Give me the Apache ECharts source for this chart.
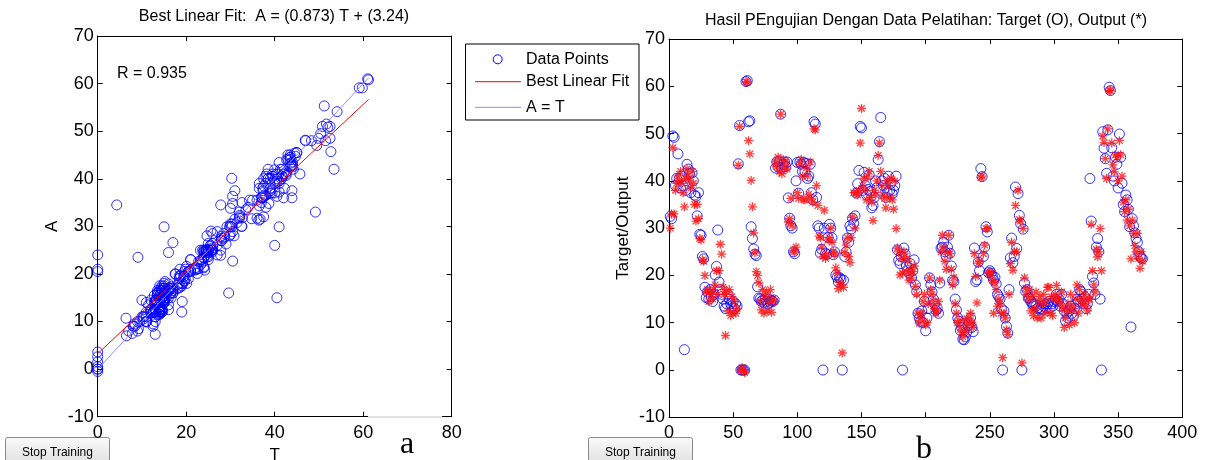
<!DOCTYPE html>
<html>
<head>
<meta charset="utf-8">
<script src="https://cdn.jsdelivr.net/npm/echarts@6/dist/echarts.min.js"></script>
<style>
html,body{margin:0;padding:0;background:#fff;}
#chart{width:1207px;height:460px;}
</style>
</head>
<body>
<div id="chart"></div>
<script>
// Target values (O), one per sample number 1..369
const targetValues = [
32.5,32,49.5,49.2,39,40.5,45.7,40.5,38.5,41,
39,4.3,38,43.5,42.5,41.5,37.5,41.7,40,37,
36.7,32.6,37.5,28.7,28.5,24,23.5,17.5,15.3,16.5,
15,17,15.5,14.5,16,20.1,21.9,29.6,18.6,17,
16,15,13.5,13,14,16,15,14,13.5,14.5,
13,14,13.5,43.6,51.7,0,0,0,0,61,
61.2,52.5,52.7,30.3,27.8,25.6,24.5,24.2,17.6,15.2,
15,14.5,14.8,14.2,15,14.5,14,15,14.3,14.7,
14.5,14.8,42.7,44,43,44.2,54.1,42.7,43.5,44,
43,44,36.4,32.1,30.5,30,25,24.6,40,43.9,
37.4,44,43.5,42,43.9,42,43.7,40.5,41,43.5,
37.5,36,52.5,52,36.5,30.5,30,24.7,25.5,0,
30,24.7,24.4,28,30.8,30,28,24.4,25,20.1,
19.6,18.6,19.5,19.2,0,19,24,25,27.9,27,
30.5,29.8,32.1,31,32.6,37.4,39.4,42.2,51.5,51.2,
38,41.8,39,37,38.2,41.3,37.8,34.3,34.8,36.5,
40,38.5,44.5,48.3,53.4,40,39,40.5,36.5,37.5,
41,38,39.5,37.2,38,39,41,25.4,23.2,22.5,
24,0,25.8,24.5,22,21,20.5,22.5,19.5,21,
23.3,18,16.6,12,11,10.3,12.5,10,14.5,8.3,
11,13,19.5,18,16.5,15,14,12.6,13,12,
18.4,25.8,26,27,25,24,26,28.5,24.7,22,
19,18.7,15,12.7,11,10.3,8.4,9,6.5,6.4,
7,8,9.5,10,11,9,8.1,25.8,18.7,19.1,
22.8,21,42.6,40.9,24,26,30.3,29.2,20.6,21,
20.5,19.8,19,19.6,18.2,16,15.5,15,13,0,
12.5,11,9.2,7.8,17,23.7,27.9,22.7,24,38.7,
25.7,37.3,32.7,31,0,29.8,18.4,16.6,17,15.2,
15.2,14.5,14,13.8,14,13.5,13,13.2,12.8,13,
12.8,13.5,14,13.2,14,14.5,13.2,14,13.5,14.5,
15,16,14.5,15,13.5,16,14,12.5,10.4,12,
11,12.5,13.5,12,11.5,13,14,15,14.5,17,
16.6,15,14,15.5,13,14,16,40.5,31.5,19.8,
18.4,16,26,27.8,25,15,0,50.4,46.9,44.7,
41.6,50.8,59.8,59.1,47,41,40,45,43.5,38.5,
49.9,45,39.5,35,33.5,37,36,34,30.3,9.1,
32,30.5,29,27.8,27,25,24,23.7,23.5
];
// Network output values (*), one per sample number 1..369
const outputValues = [
30,33,47,33,38,39.5,41,40,42,39.5,
37.5,34.5,40.5,42.5,41,40,38.5,42,39.5,35,
31.5,35,32,27.8,27.5,23.3,23,20,16.5,17,
14.5,16.5,16,15,17,18,21,16,21,26.6,
24.5,17.5,16,7.3,16.5,12.5,17,11.5,15.5,12,
14.5,12,13,43.3,51.5,0,0.5,0,-0.5,61,
60.8,48.5,45.7,40.1,34.5,29,24.8,20.8,20,18.4,
14.5,12.7,17,12,15.5,16.5,12.5,14.3,17,12.2,
15,14.5,44,43,45,42,54.1,41.5,44.5,42.8,
44,42.5,31.3,32,36.3,30.5,25.2,25,26,37.5,
36.3,43.5,44.5,41,36,36,42.7,41,37.2,44,
36.2,35.5,51,50.8,39,34.8,28.3,28,26,24,
33.8,23.6,24.5,27.5,28,30,27,25,24.5,21.6,
20.5,17.2,18.5,18,3.6,17.5,24.8,26.4,27.9,24,
22.7,28,32.3,37.5,30,37.5,37,38,48,55.3,
39,40.5,38,36,41,42,36.5,35.5,31.6,38,
37,40,45.4,48,42,39,37,36.3,34.3,40,
39,36.5,40.5,36,34,40,29.9,25.8,25,20.1,
23.5,20.5,25,24,20.8,23,19,21,19.5,20.8,
22,17.7,16,12,9.9,11,12,14.5,16,9.5,
10,14,19.5,17,16,14.5,13,12,12.5,14.5,
19,25,28.5,26,23,21.3,25,28.5,24.6,21.3,
18,19.5,14,12,10,10.5,9,8,7,10.7,
8,9,10,11,12,10,9,24.6,19.8,14.2,
22.6,23,40.7,41,24.6,26.4,29.9,29.9,20.5,20.5,
20.5,19,12,18.5,17,13.5,15,14,12,2.6,
12,11,8.5,7.5,16,22.5,27,21.1,25,34.8,
25,38,31.8,31.5,1.5,29.9,19.5,17.3,16,14.9,
17,12.5,15.5,11.5,13,16.5,11,14.5,15.5,11,
14,16,12,14.5,17.5,17.5,12,15.5,11.5,15,
16,17.9,15,14.9,14,16.5,13,9,11,12.5,
14,9.5,16,12.5,13.5,10,15,18,12,17,
15,14,14.5,16,13.5,12.5,15,15,30.8,21,
18,16.5,25.5,23.9,25,29.9,21,49.5,48.1,44.7,
40.5,51,59.1,59.1,48,43.4,41.9,45.5,45,40,
48.5,45.5,41,35.5,33.5,36,31.7,34,30.5,23.5,
31.7,28.9,26.3,25,28.9,23.6,21.5,25,23
];
const fitSlope = 0.873, fitIntercept = 3.24, rValue = 0.935;
const leftXTicks = [0, 80, 20];   // min, max, interval
const leftYTicks = [-10, 70, 10];
const rightXTicks = [0, 400, 50];
const rightYTicks = [-10, 70, 10];
const hiddenRightXLabels = [200];

const FONT = 'Liberation Sans, Arial, sans-serif';
const tMax = Math.max(...targetValues);
const scatterPairs = targetValues.map((t, i) => [t, outputValues[i]]);
const targetSeries = targetValues.map((v, i) => [i + 1, v]);
const outputSeries = outputValues.map((v, i) => [i + 1, v]);

const chart = echarts.init(document.getElementById('chart'), null, {renderer: 'canvas'});
const star = 'path://M0,-5L0,5M-5,0L5,0M-3.6,-3.6L3.6,3.6M-3.6,3.6L3.6,-3.6';

function axisCommon(extra) {
  return Object.assign({
    type: 'value',
    axisLine: {show: true, onZero: false, lineStyle: {color: '#000', width: 1}},
    axisTick: {show: true, inside: true, length: 5, lineStyle: {color: '#000'}},
    splitLine: {show: false},
    axisLabel: {color: '#000', fontSize: 18, fontFamily: FONT},
    nameTextStyle: {color: '#000', fontSize: 17, fontFamily: FONT}
  }, extra);
}

const grids = [
  {left: 97.7, top: 36, width: 354, height: 380.7, show: false, containLabel: false, outerBoundsMode: 'none'},
  {left: 669, top: 39, width: 513.3, height: 378.3, show: false, containLabel: false, outerBoundsMode: 'none'}
];

const xAxes = [
  axisCommon({gridIndex: 0, min: leftXTicks[0], max: leftXTicks[1], interval: leftXTicks[2], position: 'bottom',
    axisLabel: {color: '#000', fontSize: 18, fontFamily: FONT, margin: 7},
    name: 'T', nameLocation: 'middle', nameGap: 30}),
  axisCommon({gridIndex: 0, min: leftXTicks[0], max: leftXTicks[1], interval: leftXTicks[2], position: 'top',
    axisLabel: {show: false}}),
  axisCommon({gridIndex: 1, min: rightXTicks[0], max: rightXTicks[1], interval: rightXTicks[2], position: 'bottom',
    axisLabel: {color: '#000', fontSize: 18, fontFamily: FONT, margin: 7,
      formatter: v => hiddenRightXLabels.includes(v) ? '' : String(v)}}),
  axisCommon({gridIndex: 1, min: rightXTicks[0], max: rightXTicks[1], interval: rightXTicks[2], position: 'top',
    axisLabel: {show: false}})
];
const yAxes = [
  axisCommon({gridIndex: 0, min: leftYTicks[0], max: leftYTicks[1], interval: leftYTicks[2], position: 'left',
    axisLabel: {color: '#000', fontSize: 18, fontFamily: FONT, margin: 4},
    name: 'A', nameLocation: 'middle', nameGap: 37}),
  axisCommon({gridIndex: 0, min: leftYTicks[0], max: leftYTicks[1], interval: leftYTicks[2], position: 'right',
    axisLabel: {show: false}}),
  axisCommon({gridIndex: 1, min: rightYTicks[0], max: rightYTicks[1], interval: rightYTicks[2], position: 'left',
    axisLabel: {color: '#000', fontSize: 18, fontFamily: FONT, margin: 4},
    name: 'Target/Output', nameLocation: 'middle', nameGap: 37}),
  axisCommon({gridIndex: 1, min: rightYTicks[0], max: rightYTicks[1], interval: rightYTicks[2], position: 'right',
    axisLabel: {show: false}})
];

const circleStyle = {color: 'rgba(0,0,0,0)', borderColor: '#0000ff', borderWidth: 1};
const starStyle = {color: 'rgba(0,0,0,0)', borderColor: '#ff1010', borderWidth: 1.3};

const series = [
  {type: 'scatter', xAxisIndex: 0, yAxisIndex: 0, data: scatterPairs, symbol: 'circle', symbolSize: 10,
   itemStyle: circleStyle, silent: true, z: 2},
  {type: 'line', xAxisIndex: 0, yAxisIndex: 0, data: [[0, 0], [tMax, tMax]], symbol: 'none',
   lineStyle: {color: '#8c8cff', width: 1}, silent: true, z: 3},
  {type: 'line', xAxisIndex: 0, yAxisIndex: 0,
   data: [[0, fitIntercept], [tMax, fitSlope * tMax + fitIntercept]], symbol: 'none',
   lineStyle: {color: '#ff0000', width: 1}, silent: true, z: 4},
  {type: 'scatter', xAxisIndex: 2, yAxisIndex: 2, data: targetSeries, symbol: 'circle', symbolSize: 10,
   itemStyle: circleStyle, silent: true, z: 2},
  {type: 'scatter', xAxisIndex: 2, yAxisIndex: 2, data: outputSeries, symbol: star, symbolSize: 9,
   itemStyle: starStyle, silent: true, z: 3}
];

function button(x) {
  return {type: 'group', left: x, top: 437, children: [
    {type: 'rect', shape: {x: 0, y: 0, width: 104, height: 30, r: 2},
     style: {fill: new echarts.graphic.LinearGradient(0, 0, 0, 1, [{offset: 0, color: '#fbfbfb'}, {offset: 1, color: '#dcdcdc'}]),
             stroke: '#8a8a8a', lineWidth: 1}},
    {type: 'text', style: {x: 52, y: 15, text: 'Stop Training', fill: '#000', font: '12px ' + FONT,
      textAlign: 'center', textVerticalAlign: 'middle'}}
  ]};
}

const graphic = [
  {type: 'text', style: {x: 274, y: 17, text: 'Best Linear Fit:  A = (' + fitSlope + ') T + (' + fitIntercept + ')',
    fill: '#000', font: '16px ' + FONT, textAlign: 'center', textVerticalAlign: 'middle'}},
  {type: 'text', style: {x: 926, y: 21, text: 'Hasil PEngujian Dengan Data Pelatihan: Target (O), Output (*)',
    fill: '#000', font: '16px ' + FONT, textAlign: 'center', textVerticalAlign: 'middle'}},
  {type: 'text', style: {x: 117, y: 74, text: 'R = ' + rValue, fill: '#000', font: '16px ' + FONT,
    textAlign: 'left', textVerticalAlign: 'middle'}},
  // legend box
  {type: 'rect', shape: {x: 465.5, y: 44, width: 173.5, height: 76},
   style: {fill: '#fff', stroke: '#000', lineWidth: 1}, z: 100},
  {type: 'circle', shape: {cx: 497.7, cy: 59.3, r: 4.5}, style: {fill: 'none', stroke: '#0000ff', lineWidth: 1}, z: 101},
  {type: 'line', shape: {x1: 475, y1: 81.7, x2: 521, y2: 81.7}, style: {stroke: '#ff0000', lineWidth: 1}, z: 101},
  {type: 'line', shape: {x1: 475, y1: 107.3, x2: 521, y2: 107.3}, style: {stroke: '#8c8cff', lineWidth: 1}, z: 101},
  {type: 'text', style: {x: 526, y: 59.5, text: 'Data Points', fill: '#000', font: '16px ' + FONT, textVerticalAlign: 'middle'}, z: 101},
  {type: 'text', style: {x: 526, y: 82, text: 'Best Linear Fit', fill: '#000', font: '16px ' + FONT, textVerticalAlign: 'middle'}, z: 101},
  {type: 'text', style: {x: 526, y: 107.5, text: 'A = T', fill: '#000', font: '16px ' + FONT, textVerticalAlign: 'middle'}, z: 101},
  // patch over left bottom axis
  {type: 'rect', shape: {x: 368, y: 414.5, width: 74, height: 5}, style: {fill: '#fff'}, z: 100},
  {type: 'line', shape: {x1: 368, y1: 417, x2: 442, y2: 417}, style: {stroke: '#c8c8c8', lineWidth: 1}, z: 101},
  // sub-figure labels
  {type: 'text', style: {x: 407, y: 461, text: 'a', fill: '#000', font: '32px Liberation Serif, Times New Roman, serif',
    textAlign: 'center', textVerticalAlign: 'bottom'}, z: 101},
  {type: 'text', style: {x: 924, y: 466, text: 'b', fill: '#000', font: '32px Liberation Serif, Times New Roman, serif',
    textAlign: 'center', textVerticalAlign: 'bottom'}, z: 101},
  button(5),
  button(588)
];

chart.setOption({
  animation: false,
  backgroundColor: '#fff',
  grid: grids,
  xAxis: xAxes,
  yAxis: yAxes,
  series: series,
  graphic: graphic
});
</script>
</body>
</html>
